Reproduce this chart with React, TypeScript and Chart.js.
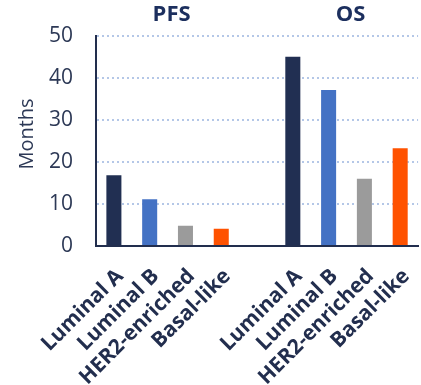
import { useEffect, useRef } from 'react';
import { Chart, registerables } from 'chart.js';

Chart.register(...registerables);

const subtypes = ['Luminal A', 'Luminal B', 'HER2-enriched', 'Basal-like'];
const groupTitles = ['PFS', 'OS'];
const pfsMonths = [16.8, 11.1, 4.8, 4.1];
const osMonths = [45.0, 37.1, 16.0, 23.2];
const subtypeColors = ['#212F52', '#4472C4', '#9B9B9B', '#FF5200'];
const yMin = 0;
const yMax = 50;
const yStep = 10;
const yTitle = 'Months';

// one empty slot separates the PFS and OS groups
const labels = [...subtypes, '', ...subtypes];
const values = [...pfsMonths, null, ...osMonths];
const colors = [...subtypeColors, 'rgba(0,0,0,0)', ...subtypeColors];
const groups = [
  { title: groupTitles[0], first: 0, count: subtypes.length },
  { title: groupTitles[1], first: subtypes.length + 1, count: subtypes.length },
];

const FONT = '"Open Sans", sans-serif';
const AXIS_COLOR = '#222E4E';
const TEXT_COLOR = '#2D3956';
const TITLE_COLOR = '#1C2F5E';
const GRID_COLOR = '#B4C7E7';

const CANVAS_W = 436;
const CANVAS_H = 385;
const PLOT_LEFT = 96;
const PLOT_TOP = 30;
const PLOT_BOTTOM = 246;

// group headings over their bars, plus the rotated y-axis title
const annotationPlugin = {
  id: 'groupTitles',
  afterDraw(chart: any) {
    const x = chart.scales.x;
    const ctx = chart.ctx;
    ctx.save();
    ctx.font = `bold 22px ${FONT}`;
    ctx.fillStyle = TITLE_COLOR;
    ctx.textAlign = 'center';
    ctx.textBaseline = 'middle';
    for (const g of groups) {
      let sum = 0;
      for (let i = 0; i < g.count; i++) sum += x.getPixelForValue(g.first + i);
      ctx.fillText(g.title, sum / g.count + 4, 15);
    }
    ctx.translate(27, 134);
    ctx.rotate(-Math.PI / 2);
    ctx.font = `20px ${FONT}`;
    ctx.fillStyle = TEXT_COLOR;
    ctx.fillText(yTitle, 0, 0);
    ctx.restore();
  },
};

export default function App() {
  const canvasRef = useRef<HTMLCanvasElement | null>(null);

  useEffect(() => {
    const canvas = canvasRef.current;
    if (!canvas) return;
    const chart = new Chart(canvas, {
      type: 'bar',
      data: {
        labels,
        datasets: [
          {
            data: values,
            backgroundColor: colors,
            borderWidth: 0,
            barPercentage: 0.42,
            categoryPercentage: 1,
          },
        ],
      },
      options: {
        responsive: false,
        animation: false,
        layout: { padding: { left: 8, top: PLOT_TOP, right: 0, bottom: 0 } },
        plugins: {
          legend: { display: false },
          tooltip: { enabled: false },
        },
        scales: {
          x: {
            grid: { display: false, drawTicks: false },
            border: { display: true, color: AXIS_COLOR, width: 2 },
            ticks: {
              autoSkip: false,
              minRotation: 45,
              maxRotation: 45,
              padding: 18,
              labelOffset: 6,
              color: AXIS_COLOR,
              font: { family: FONT, size: 21, weight: 'bold' },
            },
            afterFit(scale: any) {
              scale.height = CANVAS_H - PLOT_BOTTOM;
            },
          },
          y: {
            min: yMin,
            max: yMax,
            ticks: {
              stepSize: yStep,
              padding: 23,
              color: TEXT_COLOR,
              font: { family: FONT, size: 21 },
            },
            grid: {
              drawTicks: false,
              lineWidth: 2,
              color: (c: any) => (c.tick && c.tick.value === 0 ? 'rgba(0,0,0,0)' : GRID_COLOR),
            },
            border: { display: true, color: AXIS_COLOR, width: 2, dash: [2, 3] },
            afterFit(scale: any) {
              scale.width = PLOT_LEFT - 8;
            },
          },
        },
      },
      plugins: [annotationPlugin],
    });
    return () => chart.destroy();
  }, []);

  return (
    <div
      style={{
        position: 'fixed',
        left: 0,
        top: 0,
        width: 421,
        height: 385,
        overflow: 'hidden',
        background: '#fff',
      }}
    >
      <canvas ref={canvasRef} width={CANVAS_W} height={CANVAS_H} style={{ display: 'block' }} />
    </div>
  );
}
